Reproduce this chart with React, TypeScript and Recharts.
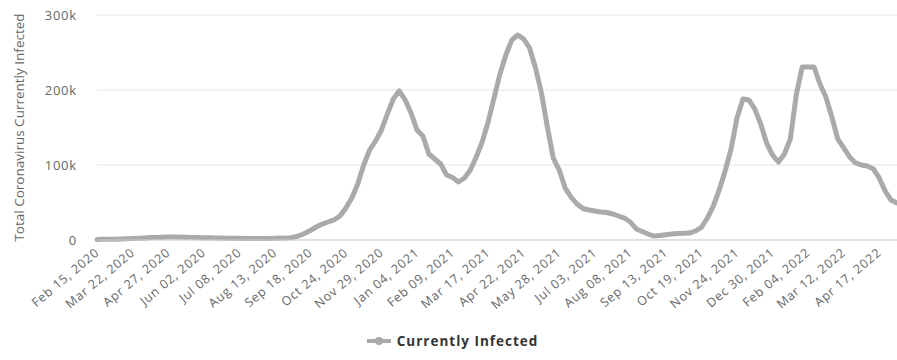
import { LineChart, Line, XAxis, YAxis, CartesianGrid, Legend } from "recharts";

const START = Date.UTC(2020, 1, 15);
const STEP_DAYS = 6;
const MONTHS = ["Jan", "Feb", "Mar", "Apr", "May", "Jun", "Jul", "Aug", "Sep", "Oct", "Nov", "Dec"];

// currently infected, thousands, one reading every 6 days from Feb 15, 2020
const INFECTED_K = [
  0.8, 0.9, 1.0, 1.1, 1.3, 1.6, 2.0, 2.4, 2.8, 3.2,
  3.5, 3.7, 3.9, 4.0, 3.9, 3.7, 3.5, 3.3, 3.1, 2.9,
  2.7, 2.6, 2.4, 2.3, 2.2, 2.1, 2.0, 2.0, 2.0, 2.1,
  2.3, 2.6, 2.5, 3.5, 5.3, 8.7, 12.7, 17.3, 21.3, 24,
  26.7, 32, 42.7, 56, 74.7, 100, 120, 132, 146.7, 168,
  188, 198.7, 186.7, 169.3, 146.7, 138.7, 114.7, 108, 101.3, 86.7,
  83.3, 77.3, 82.7, 93.3, 110.7, 130.7, 157.3, 189.3, 221.3, 246.7,
  266.7, 273.3, 268, 256, 229.3, 196, 150.7, 109.3, 93.3, 69.3,
  57.3, 48, 42, 40, 38.7, 37.3, 36.7, 34.7, 32, 29.3,
  24, 14.7, 11.3, 8, 5.3, 6, 7, 8, 8.7, 8.9,
  9.3, 12, 16.7, 29.3, 45.3, 66.7, 92, 121.3, 162.7, 188,
  186.7, 174.7, 154.7, 129.3, 113.3, 104, 114.7, 134.7, 193.3, 230.7,
  230.7, 230.7, 208, 190.7, 164, 134.7, 122.7, 110.7, 102.7, 100,
  98.7, 94.7, 82.7, 65.3, 53.3, 49.3,
];

const TICK_LABELS = [
  "Feb 15, 2020", "Mar 22, 2020", "Apr 27, 2020", "Jun 02, 2020", "Jul 08, 2020",
  "Aug 13, 2020", "Sep 18, 2020", "Oct 24, 2020", "Nov 29, 2020", "Jan 04, 2021",
  "Feb 09, 2021", "Mar 17, 2021", "Apr 22, 2021", "May 28, 2021", "Jul 03, 2021",
  "Aug 08, 2021", "Sep 13, 2021", "Oct 19, 2021", "Nov 24, 2021", "Dec 30, 2021",
  "Feb 04, 2022", "Mar 12, 2022", "Apr 17, 2022",
];

const Y_TICKS = [0, 100000, 200000, 300000];

const fmtDate = (i: number) => {
  const d = new Date(START + i * STEP_DAYS * 86400000);
  const day = String(d.getUTCDate()).padStart(2, "0");
  return `${MONTHS[d.getUTCMonth()]} ${day}, ${d.getUTCFullYear()}`;
};

const data = INFECTED_K.map((v, i) => ({ date: fmtDate(i), infected: v * 1000 }));

const FONT = "'Open Sans', sans-serif";
const LINE_COLOR = "#aaaaaa";

function XTick({ x, y, payload }: any) {
  return (
    <text
      x={x + 3}
      y={y + 12}
      transform={`rotate(-40, ${x + 3}, ${y + 12})`}
      textAnchor="end"
      fontSize={12.5}
      fontFamily={FONT}
      fill="#666"
      letterSpacing={0.8}
    >
      {payload.value}
    </text>
  );
}

function LegendContent() {
  return (
    <div
      style={{
        display: "flex",
        justifyContent: "center",
        alignItems: "center",
        paddingLeft: 8,
        paddingTop: 2,
        fontFamily: FONT,
        fontSize: 13.5,
        fontWeight: 700,
        color: "#333",
      }}
    >
      <svg width={24} height={12} style={{ marginRight: 6 }}>
        <line x1={0} y1={6} x2={24} y2={6} stroke={LINE_COLOR} strokeWidth={4} />
        <circle cx={12} cy={6} r={4} fill={LINE_COLOR} />
      </svg>
      <span style={{ letterSpacing: 1 }}>Currently Infected</span>
    </div>
  );
}

export default function App() {
  return (
    <div style={{ width: 897, height: 360 }}>
      <style>{`body{margin:0}`}</style>
      <LineChart width={897} height={360} data={data} margin={{ top: 15, right: 0, left: 0, bottom: 0 }}>
        <CartesianGrid vertical={false} stroke="#e6e6e6" />
        <XAxis
          dataKey="date"
          ticks={TICK_LABELS}
          interval={0}
          tickLine={false}
          tickSize={0}
          height={90}
          stroke="#ccc"
          tick={<XTick />}
        />
        <YAxis
          domain={[0, 300000]}
          ticks={Y_TICKS}
          width={97}
          axisLine={false}
          tickLine={false}
          tickSize={0}
          tickMargin={20}
          tick={{ fontSize: 13, fontFamily: FONT, fill: "#666", letterSpacing: 0.8 }}
          tickFormatter={(v: number) => (v === 0 ? "0" : `${v / 1000}k`)}
          label={{
            value: "Total Coronavirus Currently Infected",
            angle: -90,
            position: "insideLeft",
            offset: 19,
            style: { fontSize: 13.5, fontFamily: FONT, fill: "#666", textAnchor: "middle" },
          }}
        />
        <Legend verticalAlign="bottom" height={30} content={<LegendContent />} />
        <Line
          type="linear"
          dataKey="infected"
          stroke={LINE_COLOR}
          strokeWidth={5}
          dot={false}
          strokeLinejoin="round"
          strokeLinecap="round"
          isAnimationActive={false}
        />
      </LineChart>
    </div>
  );
}
